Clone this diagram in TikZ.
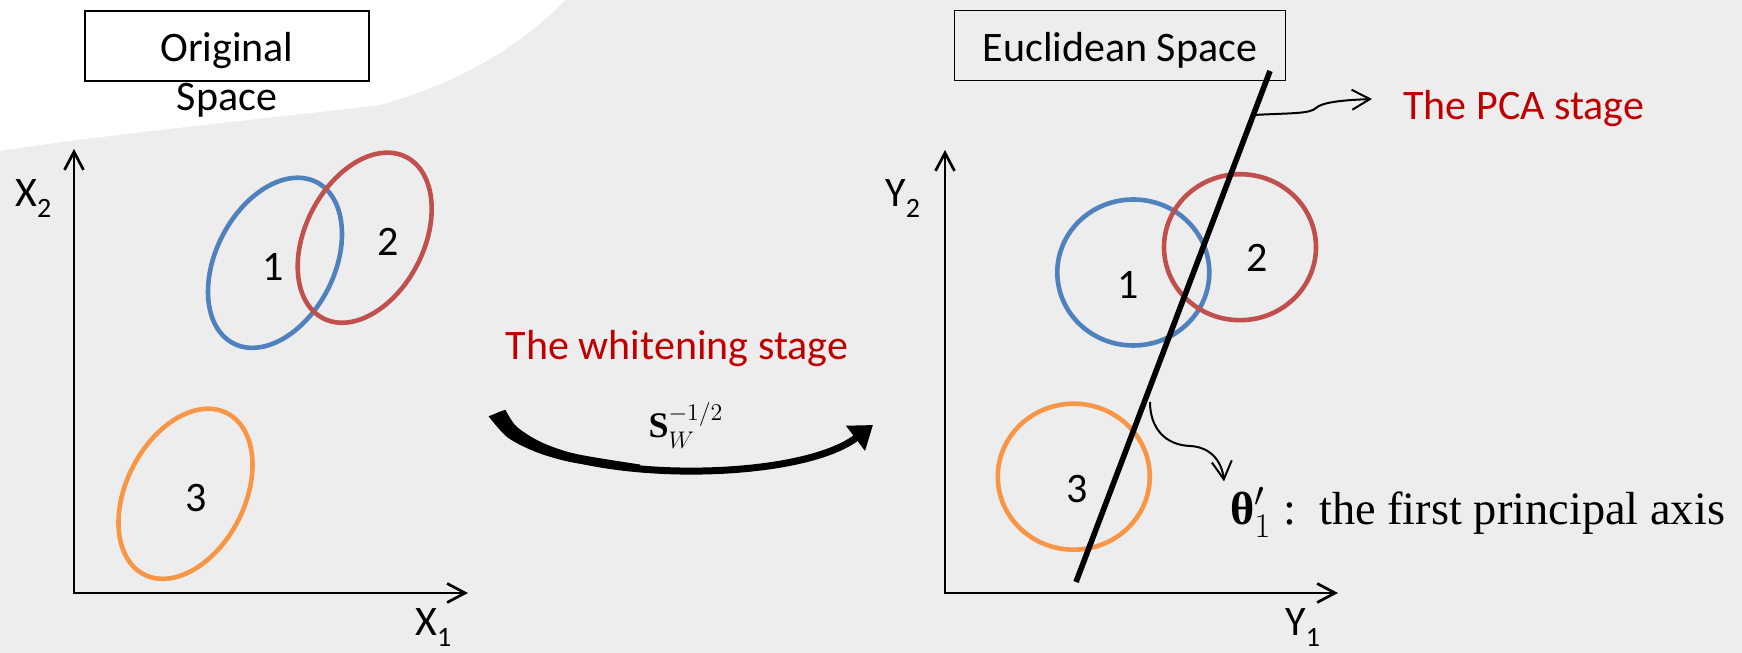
\documentclass[tikz,border=0pt]{standalone}
\usepackage{fontspec}
\usepackage{amsmath}
\usepackage{tikz}
\usetikzlibrary{arrows.meta}
\setmainfont{Carlito}
\newfontfamily\axisfont{Liberation Serif}
\definecolor{paperA}{HTML}{EDEDED}
\definecolor{clustA}{HTML}{4F81BD}
\definecolor{clustB}{HTML}{C0504D}
\definecolor{clustC}{HTML}{F79646}
\definecolor{stageRed}{HTML}{C00000}
\newcommand{\axname}[2]{#1\raisebox{-5.5pt}{\fontsize{14}{14}\selectfont #2}}

\begin{document}
\begin{tikzpicture}[x=0.5pt,y=0.5pt,
  axisline/.style={line width=1.35pt,{Straight Barb[length=9pt,width=9.5pt]}-{Straight Barb[length=9pt,width=9.5pt]}},
  ann/.style={line width=1pt,-{Straight Barb[length=9pt,width=10pt]}},
  cluster/.style={line width=2.3pt},
  lbl/.style={inner sep=0pt,font=\fontsize{21}{25}\selectfont},
  spacebox/.style={draw,line width=0.7pt,minimum height=35pt,inner sep=0pt,
    text height=18pt,text depth=2pt,font=\fontsize{21}{25}\selectfont}]
  \useasboundingbox (0,0) rectangle (1742,653);
  \fill[paperA] (0,0) rectangle (1742,653);
  \fill[white] (0,653) -- (565,653) .. controls (525,610) and (460,570) .. (380,548)
    .. controls (300,538) and (100,518) .. (0,502) -- cycle;

  % titles
  \node[spacebox,minimum width=142pt] (origbox) at (227,607) {Original};
  \node[lbl,anchor=base] (origspace) at ([yshift=-14.5pt]origbox.south) {Space};
  \node[spacebox,minimum width=165.3pt] (euclbox) at (1120,607.2) {Euclidean Space};

  % left space
  \coordinate (o1) at (74,60);
  \coordinate (x1tip) at (468,60);
  \coordinate (y1tip) at (74,504);
  \draw[axisline] (y1tip) -- (o1) -- (x1tip);
  \node[lbl,anchor=base west] (xlab2) at (15,446) {\axname{X}{2}};
  \node[lbl,anchor=base west] (xlab1) at (415,17) {\axname{X}{1}};

  \foreach \cx/\cy/\clr in {275/390.2/clustA, 364.7/415.3/clustB, 185.5/159.2/clustC}
    \draw[cluster,\clr,shift={(\cx,\cy)},rotate=62.7] (0,0) ellipse [x radius=90.7, y radius=59.1];

  \node[lbl] (lc1) at (273.3,386.3) {1};
  \node[lbl] (lc2) at (388.3,411.3) {2};
  \node[lbl] (lc3) at (196,154.7) {3};

  % whitening
  \node[lbl,anchor=base,text=stageRed] (whiten) at (677,293) {The whitening stage};
  \node[anchor=base,inner sep=0pt,font=\axisfont\fontsize{18}{21}\selectfont] (sw) at (686,215)
    {{\bfseries S}${}_W^{-1/2}$};
  \coordinate (wfrom) at (497,240);
  \coordinate (wto) at (873,228);
  \fill plot[smooth] coordinates {(488.6,236.7) (507.7,215.5) (536.8,200.7) (573.9,190.3) (640,181.5)}
    -- plot[smooth] coordinates {(640,188.5) (575.9,199.1) (541,210.9) (516.5,226.5) (505.4,243.3)} -- cycle;
  \draw[line width=3.5pt,-{Triangle[length=11pt,width=15pt]}] (wfrom) .. controls (525,170) and (790,165) .. (wto);

  % euclidean space
  \coordinate (o2) at (945,60);
  \coordinate (x2tip) at (1338,60);
  \coordinate (y2tip) at (945,503);
  \draw[axisline] (y2tip) -- (o2) -- (x2tip);
  \node[lbl,anchor=base west] (ylab2) at (885,446) {\axname{Y}{2}};
  \node[lbl,anchor=base west] (ylab1) at (1285,17) {\axname{Y}{1}};

  \foreach \cx/\cy/\clr in {1133.3/380.5/clustA, 1240/405.8/clustB, 1073.8/176.3/clustC}
    \draw[cluster,\clr] (\cx,\cy) ellipse [x radius=76, y radius=73];

  \node[lbl] (rc1) at (1128.3,368) {1};
  \node[lbl] (rc2) at (1256.7,394.7) {2};
  \node[lbl] (rc3) at (1076.7,163.7) {3};

  \coordinate (paxlow) at (1076,71);
  \coordinate (paxhigh) at (1270,582);
  \draw[line width=2.8pt] (paxlow) -- (paxhigh);

  % annotations
  \node[lbl,anchor=base west,text=stageRed] (pca) at (1403,533) {The PCA stage};
  \coordinate (pcafoot) at (1254,538);
  \draw[ann] (pcafoot) .. controls (1290,540) and (1310,539) .. (1316,545)
    .. controls (1322,551) and (1345,553) .. ([xshift=-15.5pt,yshift=5pt]pca.west);

  \node[anchor=base west,inner sep=0pt,font=\axisfont\fontsize{23.2}{28}\selectfont] (theta) at (1230,128)
    {{\bfseries θ}${}'_1$\ :\ \ the first principal axis};
  \coordinate (thetafoot) at (1150,251);
  \draw[ann] (thetafoot) .. controls (1150,225) and (1165,208) .. (1190,207)
    .. controls (1212,206) and (1222,190) .. ([xshift=-3pt,yshift=3pt]theta.north west);
\end{tikzpicture}
\end{document}
